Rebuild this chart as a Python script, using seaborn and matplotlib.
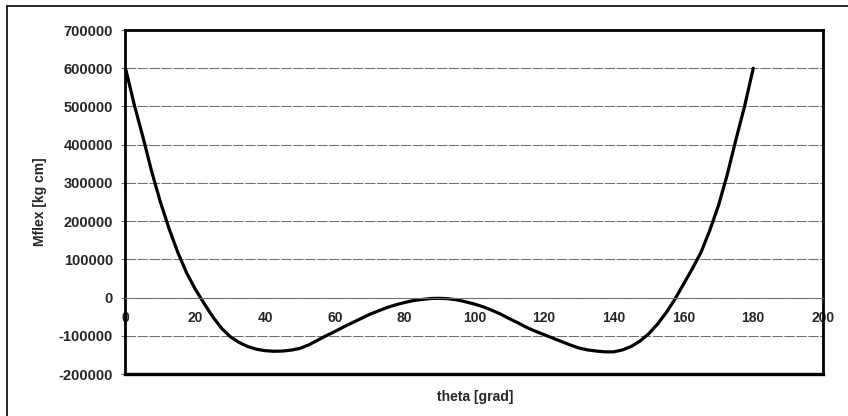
import matplotlib
matplotlib.use("Agg")
import matplotlib.pyplot as plt
import matplotlib.lines as mlines
import seaborn as sns
import pandas as pd

# Bending moment along the ring, theta in degrees
theta = [0, 2.5, 5, 7.5, 10, 12.5, 15, 17.5, 20, 22.5, 25, 27.5, 30, 32.5, 35,
         37.5, 40, 42.5, 45, 47.5, 50, 52.5, 55, 57.5, 60, 62.5, 65, 67.5, 70,
         72.5, 75, 77.5, 80, 82.5, 85, 87.5, 90, 92.5, 95, 97.5, 100, 102.5,
         105, 107.5, 110, 112.5, 115, 117.5, 120, 122.5, 125, 127.5, 130,
         132.5, 135, 137.5, 140, 142.5, 145, 147.5, 150, 152.5, 155, 157.5,
         160, 162.5, 165, 167.5, 170, 172.5, 175, 177.5, 180]
mflex = [600000, 505000, 420000, 330000, 250000, 180000, 118000, 65000, 22000,
         -15000, -50000, -80000, -102000, -117000, -128000,
         -135000, -139000, -140500, -140000, -137500, -133000, -124000,
         -112000, -100000, -89000, -77000, -66000, -55000, -44000,
         -35000, -26000, -19000, -13000, -8000, -5000, -2500, -2000, -3000,
         -6000, -11000, -17000, -24000,
         -33000, -43000, -55000, -66000, -78000, -88000, -97000, -106000,
         -115000, -124000, -132000,
         -137000, -140000, -142000, -142000, -137000, -128000, -114000,
         -95000, -70000, -40000, -5000,
         35000, 75000, 118000, 175000, 240000, 320000, 412000, 500000, 600000]

x_ticks = [0, 20, 40, 60, 80, 100, 120, 140, 160, 180, 200]
y_ticks = [-200000, -100000, 0, 100000, 200000, 300000, 400000, 500000,
           600000, 700000]

df = pd.DataFrame({"theta [grad]": theta, "Mflex [kg cm]": mflex})

sns.set_style("white")
plt.rcParams["font.family"] = ["Liberation Sans", "DejaVu Sans"]
plt.rcParams["font.weight"] = "bold"

fig = plt.figure(figsize=(8.48, 4.16), dpi=100)
ax = fig.add_axes([125.5 / 848, 1 - 374 / 416, (823 - 125.5) / 848, (374 - 30) / 416])

sns.lineplot(data=df, x="theta [grad]", y="Mflex [kg cm]", ax=ax,
             color="black", linewidth=2.3, sort=False)

ax.set_xlim(0, 200)
ax.set_ylim(-200000, 700000)
ax.set_xticks(x_ticks)
ax.set_yticks(y_ticks)
ax.set_xticklabels([str(v) for v in x_ticks], fontsize=10.5, fontweight="bold")
ax.set_yticklabels([str(v) for v in y_ticks], fontsize=10.5, fontweight="bold")

# horizontal gridlines
for v in y_ticks[1:-1]:
    ax.axhline(v, color="#6e6e6e", linewidth=0.75, linestyle=(0, (10, 1.5)), zorder=0)

# x axis crosses at zero
ax.spines["bottom"].set_position(("data", 0))
ax.spines["bottom"].set_color("#6e6e6e")
ax.spines["bottom"].set_linewidth(0.75)
for side in ["top", "left", "right"]:
    ax.spines[side].set_visible(True)
    ax.spines[side].set_color("black")
    ax.spines[side].set_linewidth(2)
ax.plot([0, 1], [0, 0], transform=ax.transAxes, color="black", linewidth=2.4,
        clip_on=False, solid_capstyle="projecting")

ax.tick_params(axis="x", direction="out", length=3, width=0.8, color="#6e6e6e",
               pad=7)
ax.tick_params(axis="y", direction="out", length=3, width=0.8, color="#6e6e6e",
               pad=6, left=True)

ax.set_xlabel("")
ax.set_ylabel("")
fig.text(475 / 848, 1 - 397 / 416, "theta [grad]", ha="center", va="center",
         fontsize=10, fontweight="bold")
fig.text(40 / 848, 1 - 202 / 416, "Mflex [kg cm]", ha="center", va="center",
         rotation=90, fontsize=10, fontweight="bold")

# outer chart frame (top and left edges)
fig.add_artist(mlines.Line2D([7 / 848, 1], [1 - 6 / 416, 1 - 6 / 416],
                             color="black", linewidth=1.2))
fig.add_artist(mlines.Line2D([7 / 848, 7 / 848], [0, 1 - 6 / 416],
                             color="black", linewidth=1.2))

fig.savefig("out.png", dpi=100)
